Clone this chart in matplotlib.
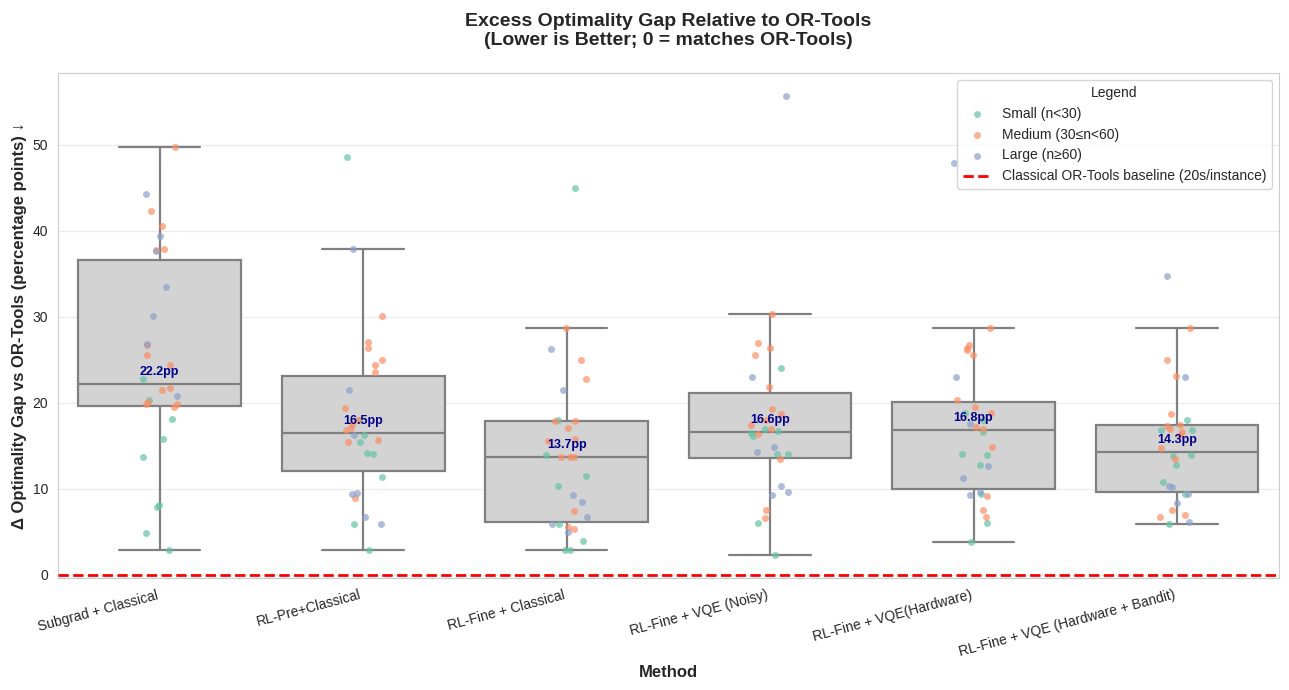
import numpy as np
import matplotlib
matplotlib.use('Agg')
import matplotlib.pyplot as plt
import seaborn as sns

sns.set_style('whitegrid')
plt.rcParams['font.family'] = ['Liberation Sans', 'DejaVu Sans']

methods = ['Subgrad + Classical', 'RL-Pre+Classical', 'RL-Fine + Classical',
           'RL-Fine + VQE (Noisy)', 'RL-Fine + VQE(Hardware)',
           'RL-Fine + VQE (Hardware + Bandit)']

# excess gap vs OR-Tools (pp), one list per method, split by instance size
small_gaps = [
    [22.7, 20.3, 18.1, 15.8, 13.7, 7.9, 8.1, 4.8, 2.9],
    [48.6, 18.0, 16.2, 15.4, 14.1, 14.0, 11.4, 5.9, 2.9],
    [45.0, 18.0, 13.9, 11.5, 10.3, 5.9, 3.9, 2.9, 2.9],
    [24.0, 16.5, 16.7, 17.0, 16.1, 14.0, 14.0, 6.0, 2.3],
    [18.8, 18.0, 16.6, 14.0, 13.9, 12.8, 9.4, 6.0, 3.8],
    [18.0, 16.8, 16.8, 13.9, 13.8, 12.8, 10.8, 9.4, 5.9],
]
medium_gaps = [
    [49.7, 42.3, 40.5, 37.7, 37.9, 26.7, 25.6, 24.4, 21.7, 21.5, 19.9, 20.1, 19.5, 19.9],
    [30.1, 27.0, 26.3, 25.0, 24.4, 23.6, 19.4, 18.0, 16.8, 17.1, 17.5, 15.7, 15.4, 8.9],
    [28.7, 25.0, 22.7, 17.9, 17.9, 17.1, 15.8, 15.5, 13.7, 13.7, 13.7, 7.4, 5.3, 5.5],
    [30.3, 26.9, 26.3, 25.5, 21.8, 19.3, 18.7, 18.0, 17.4, 16.9, 16.4, 13.4, 7.5, 6.6],
    [28.7, 26.7, 26.3, 26.1, 25.5, 20.3, 19.5, 18.8, 17.2, 17.0, 14.9, 9.1, 7.5, 6.7],
    [28.7, 25.0, 23.1, 18.7, 17.3, 17.4, 17.0, 16.6, 16.3, 14.7, 13.4, 7.5, 6.9, 6.7],
]
large_gaps = [
    [44.2, 39.4, 37.6, 33.4, 30.1, 26.8, 20.8],
    [37.9, 21.5, 16.2, 9.5, 9.4, 6.7, 5.9],
    [26.2, 21.5, 9.3, 8.5, 6.7, 5.9, 5.0],
    [55.6, 23.0, 14.9, 14.3, 10.3, 9.6, 9.3],
    [47.8, 23.0, 17.5, 12.7, 11.2, 9.6, 9.3],
    [34.7, 23.0, 10.3, 10.2, 9.4, 8.4, 6.1],
]
size_labels = ['Small (n<30)', 'Medium (30≤n<60)', 'Large (n≥60)']

palette = sns.color_palette('Set2', 3)

fig = plt.figure(figsize=(12.89, 6.9), dpi=100)
ax = fig.add_axes([0.045, 0.162, 0.947, 0.732])

all_gaps = [s + m + l for s, m, l in zip(small_gaps, medium_gaps, large_gaps)]
pos = np.arange(len(methods))

ax.boxplot(all_gaps, positions=pos, widths=0.8, patch_artist=True, showfliers=False,
           boxprops=dict(facecolor='lightgray', edgecolor='gray', linewidth=1.6),
           medianprops=dict(color='gray', linewidth=1.6),
           whiskerprops=dict(color='gray', linewidth=1.6),
           capprops=dict(color='gray', linewidth=1.6), zorder=2)

rng = np.random.default_rng(3)
for k, group in enumerate([small_gaps, medium_gaps, large_gaps]):
    for i, vals in enumerate(group):
        jx = i + rng.uniform(-0.1, 0.1, len(vals))
        ax.scatter(jx, vals, s=25, color=palette[k], alpha=0.7, linewidth=0,
                   zorder=3, label=size_labels[k] if i == 0 else None)

for i, vals in enumerate(all_gaps):
    med = np.median(vals)
    ax.text(i, med + 0.7, f'{med:.1f}pp', ha='center', va='bottom', fontsize=9,
            fontweight='bold', color='darkblue', zorder=4)

ax.axhline(0, color='red', linestyle='--', linewidth=2,
           label='Classical OR-Tools baseline (20s/instance)', zorder=4)

ax.set_xlim(-0.5, len(methods) - 0.5)
ax.set_ylim(-0.4, 58.3)
ax.set_xticks(pos)
ax.set_xticklabels(methods, rotation=15, ha='right', fontsize=10)
ax.tick_params(axis='y', labelsize=10)
ax.xaxis.grid(False)
ax.yaxis.grid(True, color='#ebebeb')

ax.set_xlabel('Method', fontsize=12, fontweight='bold')
ax.set_ylabel('Δ Optimality Gap vs OR-Tools (percentage points) ↓', fontsize=12, fontweight='bold')
ax.set_title('Excess Optimality Gap Relative to OR-Tools\n(Lower is Better; 0 = matches OR-Tools)',
             fontsize=14, fontweight='bold', pad=20)

ax.legend(title='Legend', loc='upper right', fontsize=10, title_fontsize=10)

fig.savefig('out.png', dpi=100)
